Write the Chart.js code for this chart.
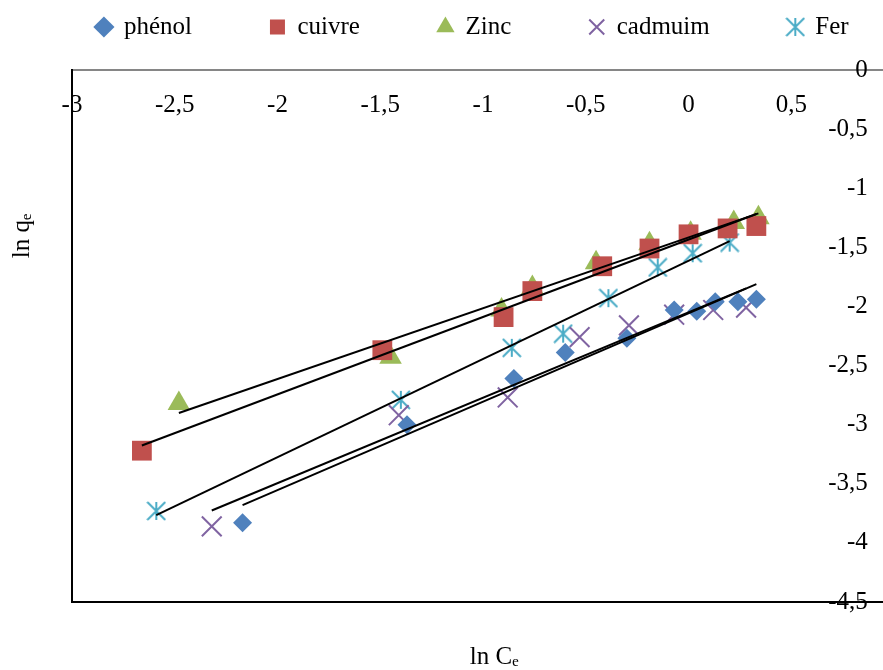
<!DOCTYPE html>
<html>
<head>
<meta charset="utf-8">
<script src="https://cdn.jsdelivr.net/npm/chart.js@4"></script>
<style>
  html, body { margin: 0; padding: 0; background: #fff; overflow: hidden; }
  /* the original figure is cropped on the right: the plot runs past the edge */
  #wrap { width: 883px; height: 670px; overflow: hidden; }
</style>
</head>
<body>
<div id="wrap"><canvas id="chart" width="945" height="670"></canvas></div>
<script>
// values (ln Ce on x, ln qe on y)
const seriesNames = ['phénol', 'cuivre', 'Zinc', 'cadmuim', 'Fer'];
const seriesColors = ['#4F81BD', '#C0504D', '#9BBB59', '#8064A2', '#4BACC6'];

const phenolX = [-2.17, -1.37, -0.85, -0.60, -0.30, -0.07, 0.04, 0.13, 0.24, 0.33];
const phenolY = [-3.83, -3.00, -2.61, -2.39, -2.27, -2.03, -2.04, -1.96, -1.96, -1.94];
const cuivreX = [-2.66, -1.49, -0.90, -0.76, -0.42, -0.19, 0.00, 0.19, 0.33];
const cuivreY = [-3.22, -2.37, -2.09, -1.87, -1.66, -1.51, -1.39, -1.34, -1.32];
const zincX = [-2.48, -1.45, -0.91, -0.76, -0.45, -0.19, 0.01, 0.22, 0.34];
const zincY = [-2.82, -2.43, -2.03, -1.84, -1.63, -1.47, -1.38, -1.29, -1.25];
const cadmiumX = [-2.32, -1.41, -0.88, -0.53, -0.29, -0.07, 0.12, 0.28];
const cadmiumY = [-3.86, -2.92, -2.77, -2.26, -2.16, -2.07, -2.03, -2.01];
const ferX = [-2.59, -1.40, -0.86, -0.61, -0.39, -0.15, 0.02, 0.20];
const ferY = [-3.73, -2.79, -2.35, -2.23, -1.93, -1.67, -1.55, -1.46];

const seriesX = [phenolX, cuivreX, zincX, cadmiumX, ferX];
const seriesY = [phenolY, cuivreY, zincY, cadmiumY, ferY];

const xMin = -3, xMax = 1.17, xStep = 0.5;
const yMin = -4.5, yMax = 0, yStep = 0.5;
const yLabelsAtX = 0.872; // value labels sit (right aligned) at this x

// excel-like asterisk marker: vertical bar + X
function asterisk(size, color) {
    const c = document.createElement('canvas');
    c.width = c.height = size;
    const g = c.getContext('2d');
    const m = size / 2, r = size / 2 - 1;
    g.strokeStyle = color;
    g.lineWidth = 2;
    g.beginPath();
    g.moveTo(m, m - r); g.lineTo(m, m + r);
    g.moveTo(m - r, m - r); g.lineTo(m + r, m + r);
    g.moveTo(m - r, m + r); g.lineTo(m + r, m - r);
    g.stroke();
    return c;
}

const markers = [
    { pointStyle: 'rectRot', radius: 9.5 },
    { pointStyle: 'rect', radius: 14 },
    { pointStyle: 'triangle', radius: 13 },
    { pointStyle: 'crossRot', radius: 14 },
    { pointStyle: asterisk(20, seriesColors[4]), radius: 10 }
];

// least squares trend line over the range of each series
function trendLine(xs, ys) {
    const n = xs.length;
    const mx = xs.reduce((a, b) => a + b, 0) / n;
    const my = ys.reduce((a, b) => a + b, 0) / n;
    let sxy = 0, sxx = 0;
    xs.forEach((x, i) => { sxy += (x - mx) * (ys[i] - my); sxx += (x - mx) * (x - mx); });
    const k = sxy / sxx;
    const x0 = Math.min(...xs), x1 = Math.max(...xs);
    return [{ x: x0, y: my + k * (x0 - mx) }, { x: x1, y: my + k * (x1 - mx) }];
}

const scatterSets = seriesNames.map((name, i) => ({
    type: 'scatter',
    label: name,
    data: seriesX[i].map((x, j) => ({ x: x, y: seriesY[i][j] })),
    pointStyle: markers[i].pointStyle,
    pointRadius: markers[i].radius,
    backgroundColor: seriesColors[i],
    borderColor: seriesColors[i],
    borderWidth: i === 3 ? 2 : 0,
    xAxisID: 'x',
    yAxisID: 'y',
    order: 1
}));

const trendSets = seriesNames.map((name, i) => ({
    type: 'line',
    label: 'trend ' + name,
    data: trendLine(seriesX[i], seriesY[i]),
    borderColor: '#000',
    borderWidth: 2,
    pointRadius: 0,
    fill: false,
    xAxisID: 'x',
    yAxisID: 'y',
    order: 0
}));

const serif = 'Liberation Serif, Times New Roman, serif';
const tickFont = { family: serif, size: 25 };
const fmt = v => (Math.round(v * 10) / 10).toString().replace('.', ',');
const noGrid = { display: false, drawTicks: false };

new Chart(document.getElementById('chart'), {
    data: { datasets: scatterSets.concat(trendSets) },
    options: {
        responsive: false,
        animation: false,
        events: [],
        layout: { padding: { top: -63.5, left: 0, right: 0, bottom: 0 } },
        plugins: {
            legend: {
                position: 'top',
                labels: {
                    usePointStyle: true,
                    boxWidth: 15,
                    boxHeight: 15,
                    padding: 78,
                    color: '#000',
                    font: { family: serif, size: 25 },
                    filter: item => item.datasetIndex < seriesNames.length
                }
            },
            // spacer between legend and plot area
            subtitle: {
                display: true,
                text: '',
                weight: 500,
                padding: 0,
                font: { size: 20.5, lineHeight: 1 }
            },
            tooltip: { enabled: false }
        },
        scales: {
            x: {
                type: 'linear',
                min: xMin, max: xMax,
                position: { y: 0 },
                grid: noGrid,
                border: { color: '#868686', width: 2 },
                ticks: { stepSize: xStep, includeBounds: false, padding: 20, color: '#000', font: tickFont, callback: fmt }
            },
            xb: {
                type: 'linear',
                axis: 'x',
                min: xMin, max: xMax,
                position: 'bottom',
                grid: noGrid,
                border: { color: '#000', width: 2 },
                ticks: { display: false },
                title: { display: true, text: 'ln Cₑ\u2002', color: '#000', font: { family: serif, size: 25, lineHeight: 1 }, padding: { top: 43, bottom: 0 } }
            },
            y: {
                type: 'linear',
                min: yMin, max: yMax,
                position: { x: yLabelsAtX },
                grid: noGrid,
                border: { display: false },
                ticks: { stepSize: yStep, padding: 0, color: '#000', font: tickFont, callback: fmt }
            },
            yl: {
                type: 'linear',
                axis: 'y',
                min: yMin, max: yMax,
                position: 'left',
                grid: noGrid,
                border: { color: '#000', width: 2 },
                ticks: { display: false },
                // leading em spaces lift the label towards the top like in the original
                title: { display: true, text: '\u2003'.repeat(8) + 'ln qₑ', color: '#000', font: { family: serif, size: 25, lineHeight: 1 }, padding: { top: 10, bottom: 37 } }
            }
        }
    }
});
</script>
</body>
</html>
